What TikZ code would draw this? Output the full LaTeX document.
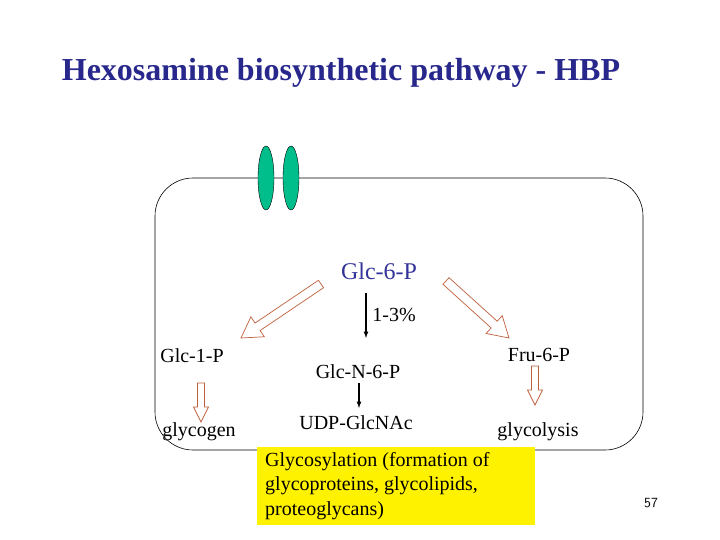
\documentclass[tikz,border=0pt]{standalone}
\usepackage{fontspec}
\setmainfont{Liberation Serif}
\usetikzlibrary{calc,shapes.geometric}
\definecolor{ttl}{RGB}{40,40,140}
\definecolor{gblue}{RGB}{51,51,153}
\definecolor{brn}{RGB}{190,95,60}
\definecolor{teal}{RGB}{0,190,140}
\newcommand\blockarrow[5]{%
 \coordinate (h) at ($(#2)!#5!(#1)$);
 \draw[brn,fill=white,line width=0.7pt] ($(#1)!#3!90:(#2)$) -- ($(h)!#3!-90:(#1)$) -- ($(h)!#4!-90:(#1)$) -- (#2) -- ($(h)!#4!90:(#1)$) -- ($(h)!#3!90:(#1)$) -- ($(#1)!#3!-90:(#2)$) -- cycle;}
\begin{document}
\begin{tikzpicture}[x=1pt,y=-1pt,
 lbl/.style={font=\fontsize{20}{22}\selectfont,inner sep=0pt},
 blk/.style={-latex,line width=1.2pt}]
\useasboundingbox (0,0) rectangle (720,540);
\node[font=\bfseries\fontsize{32}{36}\selectfont,text=ttl] (title) at (341,73) {Hexosamine biosynthetic pathway - HBP};
\draw[rounded corners=38,line width=0.6pt] (155,178) rectangle (643,450);
\node[draw,fill=teal,ellipse,minimum width=16,minimum height=64,inner sep=0pt] (c1) at (266,178) {};
\node[draw,fill=teal,ellipse,minimum width=16,minimum height=64,inner sep=0pt] (c2) at (291,178) {};
\node[font=\fontsize{24}{26}\selectfont,text=gblue] (g6p) at (379,271) {Glc-6-P};
\node[lbl] (pct) at (394,315) {1-3\%};
\node[lbl] (g1p) at (192,356) {Glc-1-P};
\node[lbl] (gn6p) at (358,372) {Glc-N-6-P};
\node[lbl] (f6p) at (539,355) {Fru-6-P};
\node[lbl] (gly) at (199,432) {glycogen};
\node[lbl] (udp) at (356,423) {UDP-GlcNAc};
\node[lbl] (glc) at (538,432) {glycolysis};
\node[fill=yellow,minimum width=278,minimum height=78,anchor=north west,inner sep=0pt] (yb) at (257,447) {};
\node[lbl,anchor=north west,align=left,font=\fontsize{20}{24.5}\selectfont] (ytxt) at (265,452) {Glycosylation (formation of\\glycoproteins, glycolipids,\\proteoglycans)};
\node[font=\sffamily\fontsize{14}{16}\selectfont] (pg) at (651,503) {57};
\coordinate (la) at (321,284); \coordinate (lb) at (241,338);
\coordinate (ra) at (446,281); \coordinate (rb) at (509,338);
\coordinate (fa) at (535,366); \coordinate (fb) at (535,405);
\coordinate (ga) at (201,383); \coordinate (gb) at (201,422);
\blockarrow{la}{lb}{4.5pt}{12pt}{20pt}
\blockarrow{ra}{rb}{4.5pt}{12pt}{20pt}
\blockarrow{fa}{fb}{3.5pt}{7.5pt}{15pt}
\blockarrow{ga}{gb}{3.5pt}{7.5pt}{15pt}
\coordinate (a1) at (366,293); \coordinate (a2) at (366,338);
\coordinate (b1) at (359,383); \coordinate (b2) at (359,408);
\draw[blk] (a1) -- (a2);
\draw[blk] (b1) -- (b2);
\end{tikzpicture}
\end{document}
